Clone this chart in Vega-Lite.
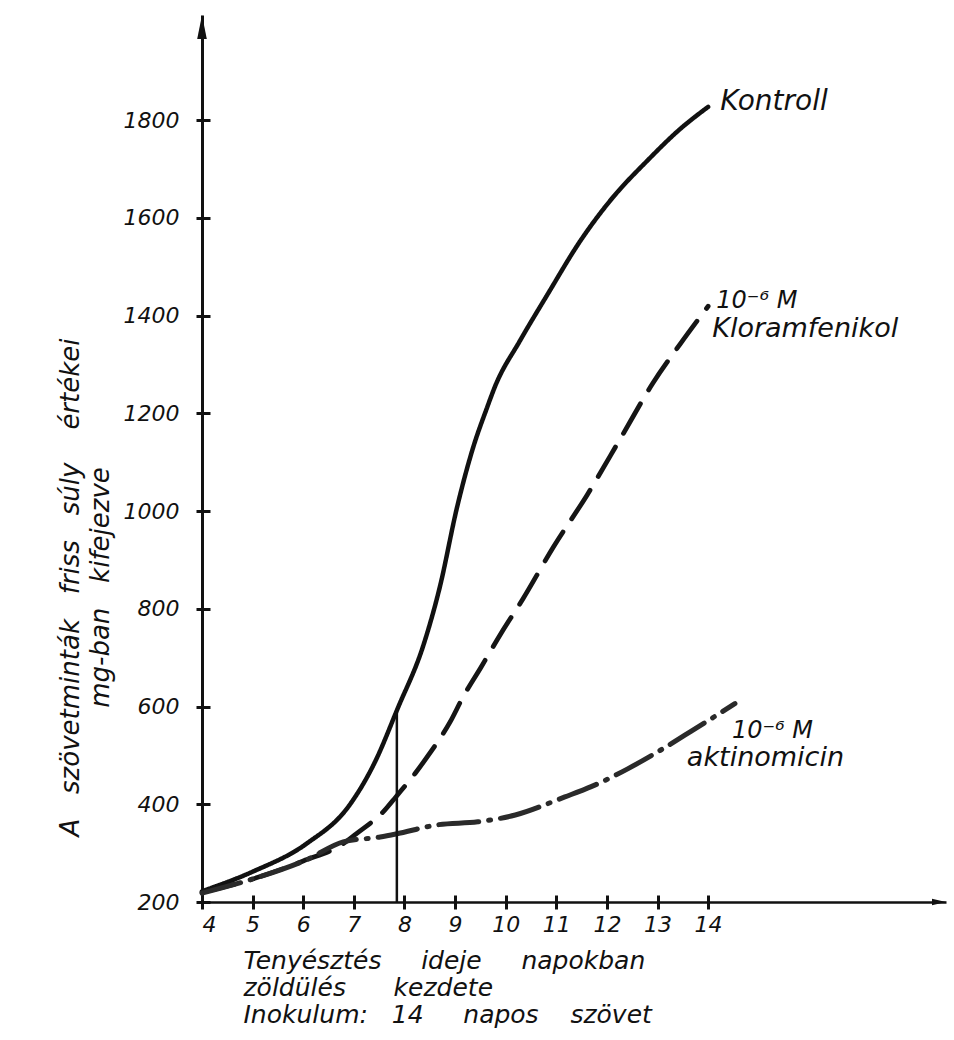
{
  "$schema": "https://vega.github.io/schema/vega-lite/v6.json",
  "width": 744,
  "height": 887,
  "autosize": "none",
  "padding": {"left": 202, "top": 15, "right": 8, "bottom": 138},
  "background": "white",
  "config": {
    "view": {"stroke": null},
    "font": "DejaVu Sans",
    "axis": {
      "ticks": true,
      "domainColor": "#111",
      "tickColor": "#111",
      "tickOpacity": 1,
      "labelColor": "#111",
      "titleColor": "#111",
      "labelFont": "DejaVu Sans",
      "titleFont": "DejaVu Sans",
      "labelFontStyle": "italic",
      "titleFontStyle": "italic",
      "titleFontWeight": "normal",
      "labelFontSize": 22,
      "tickWidth": 3,
      "grid": true,
      "gridColor": "#111",
      "gridOpacity": 1,
      "gridWidth": 3
    }
  },
  "datasets": {
    "curves": [
      {"series": "Kontroll", "day": 4.0, "weight": 222},
      {"series": "Kontroll", "day": 5.0, "weight": 262},
      {"series": "Kontroll", "day": 6.06, "weight": 319},
      {"series": "Kontroll", "day": 6.92, "weight": 399},
      {"series": "Kontroll", "day": 7.42, "weight": 487},
      {"series": "Kontroll", "day": 7.87, "weight": 597},
      {"series": "Kontroll", "day": 8.37, "weight": 724},
      {"series": "Kontroll", "day": 8.7, "weight": 845},
      {"series": "Kontroll", "day": 9.04, "weight": 1008},
      {"series": "Kontroll", "day": 9.36, "weight": 1131},
      {"series": "Kontroll", "day": 9.63, "weight": 1211},
      {"series": "Kontroll", "day": 9.79, "weight": 1255},
      {"series": "Kontroll", "day": 10.28, "weight": 1348},
      {"series": "Kontroll", "day": 10.82, "weight": 1442},
      {"series": "Kontroll", "day": 11.47, "weight": 1552},
      {"series": "Kontroll", "day": 12.12, "weight": 1642},
      {"series": "Kontroll", "day": 12.79, "weight": 1716},
      {"series": "Kontroll", "day": 13.45, "weight": 1782},
      {"series": "Kontroll", "day": 14.0, "weight": 1827},
      {"series": "Kloramfenikol", "day": 4.0, "weight": 220},
      {"series": "Kloramfenikol", "day": 5.0, "weight": 247},
      {"series": "Kloramfenikol", "day": 6.0, "weight": 284},
      {"series": "Kloramfenikol", "day": 6.8, "weight": 320},
      {"series": "Kloramfenikol", "day": 7.04, "weight": 339},
      {"series": "Kloramfenikol", "day": 7.62, "weight": 389},
      {"series": "Kloramfenikol", "day": 7.83, "weight": 415},
      {"series": "Kloramfenikol", "day": 8.21, "weight": 463},
      {"series": "Kloramfenikol", "day": 8.47, "weight": 500},
      {"series": "Kloramfenikol", "day": 8.9, "weight": 568},
      {"series": "Kloramfenikol", "day": 9.16, "weight": 620},
      {"series": "Kloramfenikol", "day": 9.51, "weight": 680},
      {"series": "Kloramfenikol", "day": 9.91, "weight": 750},
      {"series": "Kloramfenikol", "day": 10.34, "weight": 820},
      {"series": "Kloramfenikol", "day": 10.94, "weight": 926},
      {"series": "Kloramfenikol", "day": 11.61, "weight": 1033},
      {"series": "Kloramfenikol", "day": 12.26, "weight": 1147},
      {"series": "Kloramfenikol", "day": 12.91, "weight": 1262},
      {"series": "Kloramfenikol", "day": 13.45, "weight": 1342},
      {"series": "Kloramfenikol", "day": 14.0, "weight": 1419},
      {"series": "aktinomicin", "day": 4.0, "weight": 218},
      {"series": "aktinomicin", "day": 5.0, "weight": 247},
      {"series": "aktinomicin", "day": 6.06, "weight": 286},
      {"series": "aktinomicin", "day": 6.79, "weight": 323},
      {"series": "aktinomicin", "day": 7.52, "weight": 333},
      {"series": "aktinomicin", "day": 7.83, "weight": 339},
      {"series": "aktinomicin", "day": 8.66, "weight": 358},
      {"series": "aktinomicin", "day": 9.45, "weight": 364},
      {"series": "aktinomicin", "day": 10.19, "weight": 378},
      {"series": "aktinomicin", "day": 11.17, "weight": 415},
      {"series": "aktinomicin", "day": 11.69, "weight": 436},
      {"series": "aktinomicin", "day": 12.42, "weight": 473},
      {"series": "aktinomicin", "day": 12.95, "weight": 504},
      {"series": "aktinomicin", "day": 13.66, "weight": 549},
      {"series": "aktinomicin", "day": 14.53, "weight": 606}
    ]
  },
  "layer": [
    {
      "data": {"name": "curves"},
      "mark": {"type": "line", "interpolate": "monotone", "strokeCap": "round"},
      "encoding": {
        "x": {
          "field": "day",
          "type": "quantitative",
          "scale": {"domain": [4, 18.7], "nice": false, "zero": false},
          "axis": {
            "values": [4, 5, 6, 7, 8, 9, 10, 11, 12, 13, 14],
            "format": "d",
            "ticks": true,
            "grid": true,
            "gridDash": [0.01, 880, 7, 3000],
            "tickColor": "#111",
            "tickWidth": 3,
            "domainWidth": 2.5,
            "tickSize": 7,
            "labelPadding": 5,
            "title": [
              "Tenyésztés\u00a0\u00a0\u00a0\u00a0 ideje\u00a0\u00a0\u00a0\u00a0 napokban",
              "zöldülés\u00a0\u00a0\u00a0\u00a0\u00a0 kezdete",
              "Inokulum:\u00a0\u00a0 14\u00a0\u00a0\u00a0\u00a0 napos\u00a0\u00a0\u00a0 szövet"
            ],
            "titleFontSize": 25,
            "titleLineHeight": 27,
            "titleAnchor": "start",
            "titleAlign": "left",
            "titleBaseline": "alphabetic",
            "titleX": 41,
            "titleY": 66
          }
        },
        "y": {
          "field": "weight",
          "type": "quantitative",
          "scale": {"domain": [200, 2015], "nice": false, "zero": false},
          "axis": {
            "values": [200, 400, 600, 800, 1000, 1200, 1400, 1600, 1800],
            "format": "d",
            "ticks": true,
            "grid": true,
            "gridDash": [8, 3000],
            "tickColor": "#111",
            "tickWidth": 3,
            "domainWidth": 3,
            "tickSize": 6,
            "labelPadding": 17,
            "title": [
              "A\u00a0\u00a0 szövetminták\u00a0\u00a0 friss\u00a0\u00a0 súly\u00a0\u00a0\u00a0 értékei",
              "mg-ban\u00a0\u00a0 kifejezve"
            ],
            "titleFontSize": 26,
            "titleLineHeight": 30,
            "titleAngle": -90,
            "titleAlign": "center",
            "titleBaseline": "middle",
            "titleX": -132,
            "titleY": 572
          }
        },
        "detail": {"field": "series"},
        "order": {"field": "day", "type": "quantitative"},
        "color": {
          "field": "series",
          "type": "nominal",
          "scale": {"domain": ["Kontroll", "Kloramfenikol", "aktinomicin"], "range": ["#111111", "#151515", "#2a2a2a"]},
          "legend": null
        },
        "strokeDash": {
          "field": "series",
          "type": "nominal",
          "scale": {"domain": ["Kontroll", "Kloramfenikol", "aktinomicin"], "range": [[1, 0], [34, 16], [40, 10, 2, 10]]},
          "legend": null
        },
        "strokeWidth": {
          "field": "series",
          "type": "nominal",
          "scale": {"domain": ["Kontroll", "Kloramfenikol", "aktinomicin"], "range": [4.5, 5, 4.5]},
          "legend": null
        }
      }
    },
    {
      "data": {"values": [{}]},
      "mark": {"type": "rule", "color": "#111", "strokeWidth": 2.5},
      "encoding": {
        "x": {"datum": 7.85, "type": "quantitative"},
        "y": {"datum": 200, "type": "quantitative"},
        "y2": {"datum": 595}
      }
    },
    {
      "data": {"values": [{}]},
      "mark": {"type": "point", "shape": "M-0.4,2L0,0L0.4,2Z", "filled": true, "color": "#111", "size": 576, "opacity": 1},
      "encoding": {
        "x": {"datum": 4, "type": "quantitative"},
        "y": {"datum": 2015, "type": "quantitative"}
      }
    },
    {
      "data": {"values": [{}]},
      "mark": {"type": "point", "shape": "M0,0L-2,-0.45L-2,0.45Z", "filled": true, "color": "#111", "size": 196, "opacity": 1},
      "encoding": {
        "x": {"datum": 18.7, "type": "quantitative"},
        "y": {"datum": 200, "type": "quantitative"}
      }
    },
    {
      "data": {"values": [{}]},
      "mark": {"type": "text", "text": "Kontroll", "align": "left", "baseline": "alphabetic", "fontSize": 28, "fontStyle": "italic", "color": "#111"},
      "encoding": {"x": {"datum": 14.24, "type": "quantitative"}, "y": {"datum": 1820, "type": "quantitative"}}
    },
    {
      "data": {"values": [{}]},
      "mark": {"type": "text", "text": "10⁻⁶ M", "align": "left", "baseline": "alphabetic", "fontSize": 24, "fontStyle": "italic", "color": "#111"},
      "encoding": {"x": {"datum": 14.16, "type": "quantitative"}, "y": {"datum": 1415, "type": "quantitative"}}
    },
    {
      "data": {"values": [{}]},
      "mark": {"type": "text", "text": "Kloramfenikol", "align": "left", "baseline": "alphabetic", "fontSize": 27, "fontStyle": "italic", "color": "#111"},
      "encoding": {"x": {"datum": 14.08, "type": "quantitative"}, "y": {"datum": 1356, "type": "quantitative"}}
    },
    {
      "data": {"values": [{}]},
      "mark": {"type": "text", "text": "10⁻⁶ M", "align": "left", "baseline": "alphabetic", "fontSize": 24, "fontStyle": "italic", "color": "#111"},
      "encoding": {"x": {"datum": 14.47, "type": "quantitative"}, "y": {"datum": 536, "type": "quantitative"}}
    },
    {
      "data": {"values": [{}]},
      "mark": {"type": "text", "text": "aktinomicin", "align": "left", "baseline": "alphabetic", "fontSize": 27, "fontStyle": "italic", "color": "#111"},
      "encoding": {"x": {"datum": 13.58, "type": "quantitative"}, "y": {"datum": 478, "type": "quantitative"}}
    }
  ]
}
